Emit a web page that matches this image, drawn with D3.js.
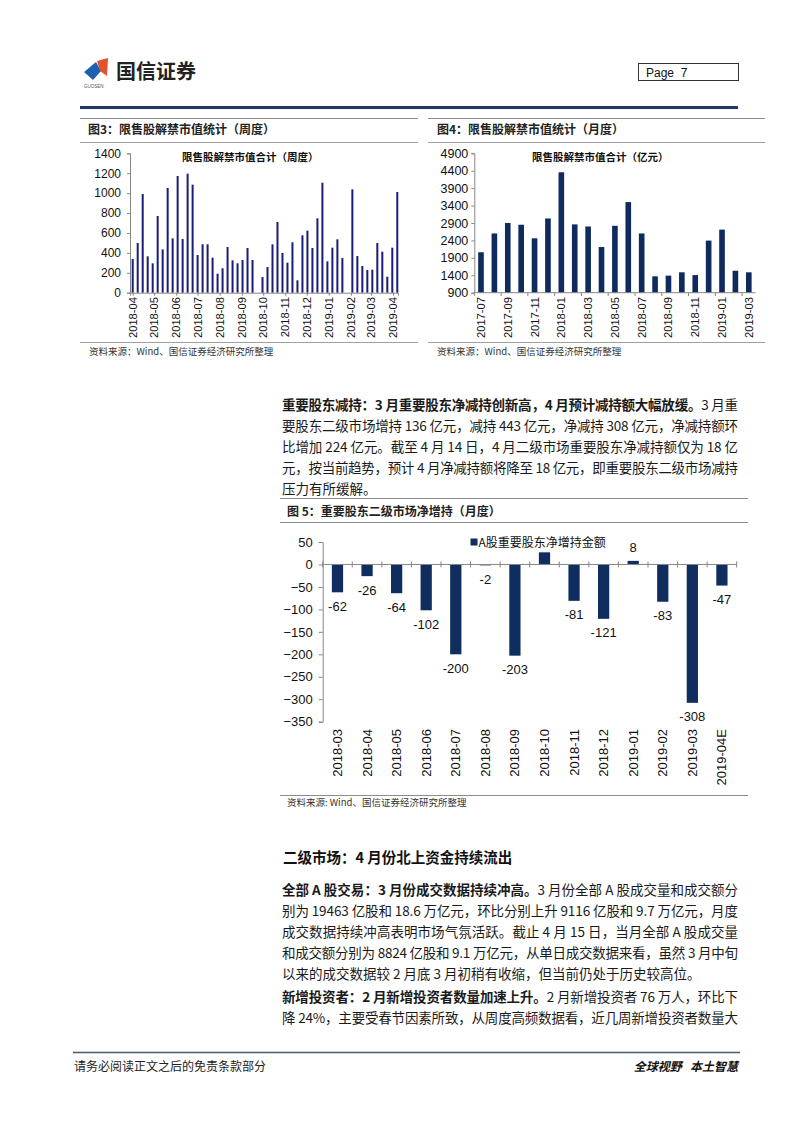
<!DOCTYPE html>
<html><head><meta charset="utf-8">
<script src="https://cdn.jsdelivr.net/npm/d3@7"></script>
<style>
html,body{margin:0;padding:0;background:#fff;}
svg{display:block;}
</style></head>
<body>
<script>
// ---------- DATA ----------
const weeklyStart = "2018-04-04";
const weeklyValues = [338,499,991,365,295,770,435,1052,546,1172,539,1196,1085,378,486,486,352,191,245,459,325,295,328,449,328,
  0,157,258,486,710,399,301,506,124,576,623,449,747,1105,315,452,536,348,0,1038,368,268,228,231,499,412,161,452,1011];
const weeklyTickLabels = ["2018-04","2018-05","2018-06","2018-07","2018-08","2018-09","2018-10","2018-11","2018-12","2019-01","2019-02","2019-03","2019-04"];
const weeklyYTicks = [0,200,400,600,800,1000,1200,1400];

const monthlyCats = ["2017-07","2017-08","2017-09","2017-10","2017-11","2017-12","2018-01","2018-02","2018-03","2018-04","2018-05","2018-06","2018-07","2018-08","2018-09","2018-10","2018-11","2018-12","2019-01","2019-02","2019-03"];
const monthlyValues = [2060,2600,2900,2850,2460,3030,4355,2860,2800,2210,2820,3500,2600,1370,1390,1485,1405,2395,2710,1530,1485];
const monthlyYTicks = [900,1400,1900,2400,2900,3400,3900,4400,4900];

const netCats = ["2018-03","2018-04","2018-05","2018-06","2018-07","2018-08","2018-09","2018-10","2018-11","2018-12","2019-01","2019-02","2019-03","2019-04E"];
const netValues = [-62,-26,-64,-102,-200,-2,-203,27,-81,-121,8,-83,-308,-47];
const netLabels = [-62,-26,-64,-102,-200,-2,-203,null,-81,-121,8,-83,-308,-47];
const netYTicks = [50,0,-50,-100,-150,-200,-250,-300,-350];

// ---------- SETUP ----------
const W = 802, H = 1133;
const svg = d3.select("body").append("svg").attr("width", W).attr("height", H);
const LAT = "'Liberation Sans', Arial, 'Noto Sans CJK SC', sans-serif";
const CJK = "'Noto Sans CJK SC', 'Liberation Sans', sans-serif";
const GRAY = "#8c8c8c";
const AX = "#868686";
const fmt = d3.format("d");

// ---------- HEADER ----------
const logo = svg.append("g");
logo.append("path").attr("d","M84,72 L96,62 L101,71 L93,80 Z").attr("fill","#1f5fb0");
logo.append("path").attr("d","M97,61 L108,58 L107,76 L100,71 Z").attr("fill","#e2532d");
logo.append("text").attr("x",84).attr("y",88).attr("font-family",LAT).attr("font-size",4.5).attr("fill","#555").text("GUOSEN");
logo.append("text").attr("x",116).attr("y",79).attr("font-family",CJK).attr("font-weight","bold").attr("font-size",20).attr("fill","#222").text("国信证券");

svg.append("rect").attr("x",638.5).attr("y",63.5).attr("width",100).attr("height",17).attr("fill","none").attr("stroke","#333").attr("stroke-width",1);
svg.append("text").attr("x",646).attr("y",76.5).attr("font-family",LAT).attr("font-size",12).attr("fill","#111").attr("xml:space","preserve").text("Page  7");

svg.append("line").attr("x1",80).attr("x2",738).attr("y1",107.5).attr("y2",107.5).attr("stroke","#1f3a68").attr("stroke-width",3);

// ---------- helpers ----------
function hline(x1,x2,y,w,c){ svg.append("line").attr("x1",x1).attr("x2",x2).attr("y1",y).attr("y2",y).attr("stroke",c||GRAY).attr("stroke-width",w||1); }
function txt(x,y,s,size,opts){
  opts = opts||{};
  return svg.append("text").attr("x",x).attr("y",y).attr("font-family",opts.family||CJK)
    .attr("font-size",size).attr("font-weight",opts.bold?"bold":"normal").attr("fill",opts.fill||"#222")
    .attr("text-anchor",opts.anchor||"start").text(s);
}

// chart header frames
hline(80,418,118.5,1.2); hline(428,765,118.5,1.2);
txt(88,134,"图3：限售股解禁市值统计（周度）",12,{bold:true});
txt(437,134,"图4：限售股解禁市值统计（月度）",12,{bold:true});
hline(80,418,142.5,1,"#a0a0a0"); hline(428,765,142.5,1,"#a0a0a0");
hline(80,418,342.5,1,"#a0a0a0"); hline(428,765,342.5,1,"#a0a0a0");
txt(89,355,"资料来源：Wind、国信证券经济研究所整理",9.5,{fill:"#333"});
txt(437,355,"资料来源：Wind、国信证券经济研究所整理",9.5,{fill:"#333"});

// ---------- CHART 3 (weekly) ----------
{
  const parse = d3.timeParse("%Y-%m-%d");
  const d0 = parse(weeklyStart);
  const dates = weeklyValues.map((v,i)=>d3.timeDay.offset(d0, 7*i));
  const day = 864e5;
  const x = d3.scaleTime().domain([new Date(+d0 - 3.8*day), new Date(+dates[dates.length-1] + 1*day)]).range([130,398]);
  const y = d3.scaleLinear().domain([0,1400]).range([292.7,153.3]);
  const g = svg.append("g");
  g.selectAll("rect.b").data(weeklyValues).join("rect")
    .attr("x",(d,i)=>x(dates[i])-1).attr("width",2)
    .attr("y",d=>y(d)).attr("height",d=>y(0)-y(d)).attr("fill","#1b1b7a");
  const tickDates = weeklyTickLabels.map(s=>parse(s+weeklyStart.slice(7)));
  const xa = g.append("g").attr("transform","translate(0,292.7)")
    .call(d3.axisBottom(x).tickValues(tickDates).tickSize(3).tickFormat(""));
  xa.select(".domain").attr("stroke",AX); xa.selectAll(".tick line").attr("stroke",AX);
  g.selectAll("text.xl").data(weeklyTickLabels).join("text")
    .attr("transform",(d,i)=>`translate(${x(tickDates[i])+4},297) rotate(-90)`)
    .attr("text-anchor","end").attr("font-family",LAT).attr("font-size",11.2).attr("fill","#111").text(d=>d);
  const ya = g.append("g").attr("transform","translate(130,0)")
    .call(d3.axisLeft(y).tickValues(weeklyYTicks).tickFormat(fmt).tickSize(3).tickPadding(6));
  ya.select(".domain").attr("stroke",AX); ya.selectAll(".tick line").attr("stroke",AX);
  ya.selectAll(".tick text").attr("font-family",LAT).attr("font-size",12).attr("fill","#111");
  txt(182,161,"限售股解禁市值合计（周度）",10.5,{bold:true,fill:"#111"});
}

// ---------- CHART 4 (monthly) ----------
{
  const x = d3.scaleBand().domain(monthlyCats).range([474.3,755.5]).paddingInner(0.58).paddingOuter(0.29);
  const y = d3.scaleLinear().domain([900,4900]).range([292.7,153.3]);
  const g = svg.append("g");
  g.selectAll("rect").data(monthlyValues).join("rect")
    .attr("x",(d,i)=>x(monthlyCats[i])).attr("width",x.bandwidth())
    .attr("y",d=>y(d)).attr("height",d=>y(900)-y(d)).attr("fill","#0f2a5c");
  g.append("line").attr("x1",474.3).attr("x2",755.5).attr("y1",292.7).attr("y2",292.7).attr("stroke",AX);
  const step = x.step();
  g.selectAll("line.t").data(monthlyCats.filter((d,i)=>i%2===0)).join("line")
    .attr("x1",d=>x(d)-x.paddingOuter()*step).attr("x2",d=>x(d)-x.paddingOuter()*step)
    .attr("y1",292.7).attr("y2",296).attr("stroke",AX);
  g.selectAll("text.xl").data(monthlyCats.filter((d,i)=>i%2===0)).join("text")
    .attr("transform",d=>`translate(${x(d)+x.bandwidth()/2+4},297) rotate(-90)`)
    .attr("text-anchor","end").attr("font-family",LAT).attr("font-size",11.2).attr("fill","#111").text(d=>d);
  const ya = g.append("g").attr("transform","translate(474.3,0)")
    .call(d3.axisLeft(y).tickValues(monthlyYTicks).tickFormat(fmt).tickSize(3).tickPadding(3));
  ya.select(".domain").attr("stroke",AX); ya.selectAll(".tick line").attr("stroke",AX);
  ya.selectAll(".tick text").attr("font-family",LAT).attr("font-size",12.5).attr("fill","#111");
  txt(532,161,"限售股解禁市值合计（亿元）",10.5,{bold:true,fill:"#111"});
}

// ---------- PARAGRAPHS ----------
function para(lines, x0, yStart, lh, width, size){
  lines.forEach((segs,i)=>{
    const t = svg.append("text").attr("x",x0).attr("y",yStart+i*lh).attr("font-family",CJK).attr("font-size",size).attr("fill","#1a1a1a");
    const last = (i===lines.length-1);
    const arr = segs.parts || segs;
    arr.forEach(s=>{
      t.append("tspan").attr("font-weight",s[1]?"bold":"normal").text(s[0]);
    });
    if(!last || segs.justify){ t.attr("textLength",width).attr("lengthAdjust","spacing"); }
  });
}
const P1 = [
  [["重要股东减持：3 月重要股东净减持创新高，4 月预计减持额大幅放缓。",1],["3 月重",0]],
  [["要股东二级市场增持 136 亿元，减持 443 亿元，净减持 308 亿元，净减持额环",0]],
  [["比增加 224 亿元。截至 4 月 14 日，4 月二级市场重要股东净减持额仅为 18 亿",0]],
  [["元，按当前趋势，预计 4 月净减持额将降至 18 亿元，即重要股东二级市场减持",0]],
  [["压力有所缓解。",0]]
];
para(P1, 282, 410, 21, 456, 13.5);

hline(280,748,498.5,1.2);
txt(287,516,"图 5：重要股东二级市场净增持（月度）",12,{bold:true});
hline(280,748,522.5,1.2);

// ---------- CHART 5 ----------
{
  const x = d3.scaleBand().domain(netCats).range([322.7,736.7]).paddingInner(0.62).paddingOuter(0.31);
  const y = d3.scaleLinear().domain([-350,50]).range([721.7,542]);
  const g = svg.append("g");
  g.selectAll("rect").data(netValues).join("rect")
    .attr("x",(d,i)=>x(netCats[i])).attr("width",x.bandwidth())
    .attr("y",d=>y(Math.max(0,d))).attr("height",d=>Math.abs(y(d)-y(0))).attr("fill","#0f2d5e");
  const ya = g.append("g").attr("transform","translate(322.7,0)")
    .call(d3.axisLeft(y).tickValues(netYTicks).tickFormat(fmt).tickSize(4).tickPadding(6));
  ya.select(".domain").attr("stroke",AX); ya.selectAll(".tick line").attr("stroke",AX);
  ya.selectAll(".tick text").attr("font-family",LAT).attr("font-size",13).attr("fill","#111");
  g.append("line").attr("x1",322.7).attr("x2",736.7).attr("y1",y(0)).attr("y2",y(0)).attr("stroke",AX);
  const step = x.step();
  const bounds = netCats.map(c=>x(c)-x.paddingOuter()*step).concat([736.7]);
  g.selectAll("line.t").data(bounds).join("line")
    .attr("x1",d=>d).attr("x2",d=>d).attr("y1",y(0)-3).attr("y2",y(0)+3).attr("stroke",AX);
  g.selectAll("text.xl").data(netCats).join("text")
    .attr("transform",d=>`translate(${x(d)+x.bandwidth()/2+4.5},729) rotate(-90)`)
    .attr("text-anchor","end").attr("font-family",LAT).attr("font-size",13).attr("fill","#111").text(d=>d);
  const labelData = netLabels.map((v,i)=>({v,c:netCats[i]})).filter(d=>d.v!==null);
  g.selectAll("text.vl").data(labelData).join("text")
    .attr("x",d=>x(d.c)+x.bandwidth()/2)
    .attr("y",d=>d.v<0? y(d.v)+14 : y(d.v)-13)
    .attr("dy","0.35em").attr("text-anchor","middle").attr("font-family",LAT).attr("font-size",13).attr("fill","#111")
    .text(d=>d.v);
  // legend
  g.append("rect").attr("x",470.5).attr("y",538.5).attr("width",7).attr("height",7).attr("fill","#0f2d5e");
  txt(478.5,547,"A股重要股东净增持金额",12,{fill:"#111"});
}
hline(280,748,795.5,1.2);
txt(287,806,"资料来源: Wind、国信证券经济研究所整理",9.5,{fill:"#333"});

// ---------- SECTION 2 ----------
txt(283,863,"二级市场：4 月份北上资金持续流出",14.5,{bold:true,fill:"#111"});
const P3 = [
  [["全部 A 股交易：3 月份成交数据持续冲高。",1],["3 月份全部 A 股成交量和成交额分",0]],
  [["别为 19463 亿股和 18.6 万亿元，环比分别上升 9116 亿股和 9.7 万亿元，月度",0]],
  [["成交数据持续冲高表明市场气氛活跃。截止 4 月 15 日，当月全部 A 股成交量",0]],
  [["和成交额分别为 8824 亿股和 9.1 万亿元，从单日成交数据来看，虽然 3 月中旬",0]],
  [["以来的成交数据较 2 月底 3 月初稍有收缩，但当前仍处于历史较高位。",0]]
];
para(P3, 282, 895, 21, 456, 13.5);
const P4 = [
  [["新增投资者：2 月新增投资者数量加速上升。",1],["2 月新增投资者 76 万人，环比下",0]],
  {parts:[["降 24%，主要受春节因素所致，从周度高频数据看，近几周新增投资者数量大",0]], justify:true}
];
para(P4, 282, 1002, 21, 456, 13.5);

// ---------- FOOTER ----------
hline(73,740,1052.5,1.5,"#4a5a70");
txt(74,1071,"请务必阅读正文之后的免责条款部分",12,{fill:"#222"});
txt(738,1071,"全球视野   本土智慧",12,{bold:true,anchor:"end",fill:"#111"}).attr("font-style","italic").attr("xml:space","preserve");
</script>
</body></html>
